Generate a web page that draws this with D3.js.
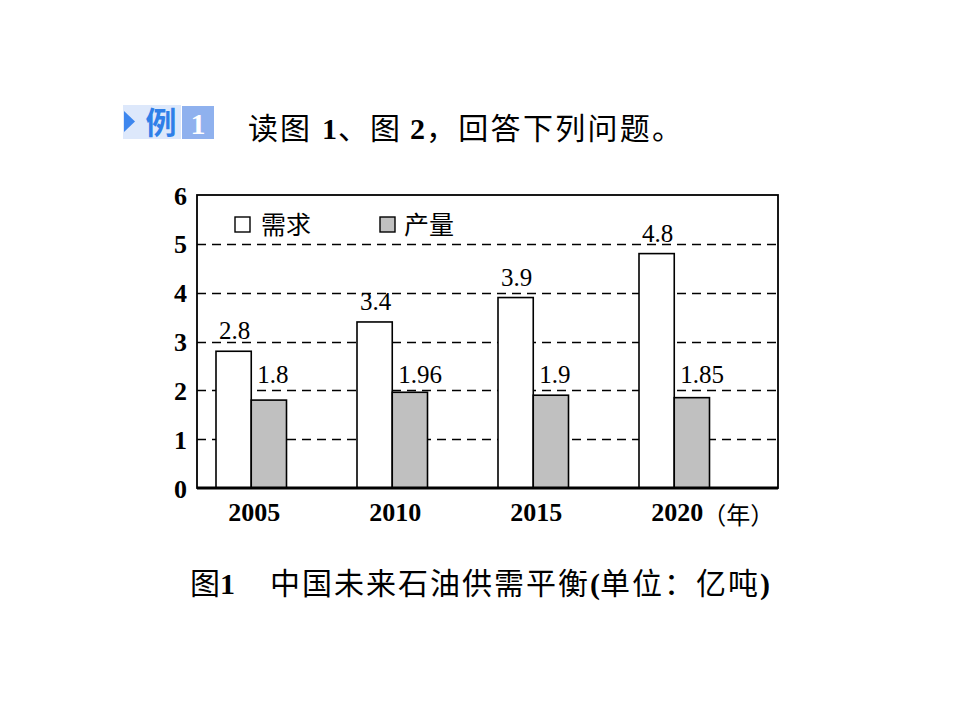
<!DOCTYPE html>
<html><head><meta charset="utf-8">
<script src="https://cdn.jsdelivr.net/npm/d3@7/dist/d3.min.js"></script>
<style>body{margin:0;background:#fff}</style>
</head><body>
<script>
const years = ["2005", "2010", "2015", "2020"];
const demand = [2.8, 3.4, 3.9, 4.8];
const production = [1.8, 1.96, 1.9, 1.85];
const demandLabels = ["2.8", "3.4", "3.9", "4.8"];
const productionLabels = ["1.8", "1.96", "1.9", "1.85"];
const yTicks = [0, 1, 2, 3, 4, 5, 6];
const gridTicks = [1, 2, 3, 4, 5];
const seriesNames = ["需求", "产量"];

const W = 960, H = 720;
const svg = d3.select("body").append("svg").attr("width", W).attr("height", H);
const serif = "'Liberation Serif','DejaVu Serif',serif";
const cjk = "'Noto Sans CJK SC',sans-serif";

const pLeft = 197, pRight = 778, pTop = 195, pBottom = 488;
const y = d3.scaleLinear().domain([0, 6]).range([pBottom, pTop]);
const x = d3.scaleBand().domain(years).range([216, 216 + 141 * 3.5]).paddingInner(0.5).paddingOuter(0).align(0);
const bw = x.bandwidth() / 2;

// header badge
const badge = svg.append("g");
badge.append("rect").attr("x", 123).attr("y", 105).attr("width", 58).attr("height", 34).attr("fill", "#dde8fb");
badge.append("path").attr("d", "M124,111 L135,121.5 L124,132 Z").attr("fill", "#3d86ee");
badge.append("text").attr("x", 161).attr("y", 134).attr("text-anchor", "middle")
  .attr("font-family", cjk).attr("font-weight", "bold").attr("font-size", 31).attr("fill", "#2f7fe8").text("例");
badge.append("rect").attr("x", 182).attr("y", 106).attr("width", 32).attr("height", 33).attr("fill", "#8fb1ee");
badge.append("text").attr("x", 198).attr("y", 134).attr("text-anchor", "middle")
  .attr("font-family", serif).attr("font-weight", "bold").attr("font-size", 30).attr("fill", "#fff").text("1");

const hdr = svg.append("text").attr("y", 139).attr("font-size", 30).attr("fill", "#000");
hdr.append("tspan").attr("x", 248).attr("font-family", cjk).attr("letter-spacing", 2).text("读图");
hdr.append("tspan").attr("x", 322).attr("font-family", serif).attr("font-weight", "bold").text("1");
hdr.append("tspan").attr("x", 338).attr("font-family", cjk).attr("letter-spacing", 2).text("、图");
hdr.append("tspan").attr("x", 410).attr("font-family", serif).attr("font-weight", "bold").text("2");
hdr.append("tspan").attr("x", 426).attr("font-family", cjk).attr("letter-spacing", 2.3).text("，回答下列问题。");

// gridlines
svg.append("g").selectAll("line").data(gridTicks).join("line")
  .attr("x1", pLeft).attr("x2", pRight).attr("y1", d => Math.round(y(d)) + 0.5).attr("y2", d => Math.round(y(d)) + 0.5)
  .attr("stroke", "#000").attr("stroke-width", 1.3).attr("stroke-dasharray", "9,6");

// bars
const g = svg.append("g");
g.selectAll("rect.d").data(years).join("rect").attr("class", "d")
  .attr("x", d => x(d)).attr("width", bw)
  .attr("y", (d, i) => y(demand[i])).attr("height", (d, i) => pBottom - y(demand[i]))
  .attr("fill", "#fff").attr("stroke", "#000").attr("stroke-width", 1.6);
g.selectAll("rect.p").data(years).join("rect").attr("class", "p")
  .attr("x", d => x(d) + bw).attr("width", bw)
  .attr("y", (d, i) => y(production[i])).attr("height", (d, i) => pBottom - y(production[i]))
  .attr("fill", "#c0c0c0").attr("stroke", "#000").attr("stroke-width", 1.6);

// value labels
g.selectAll("text.dl").data(years).join("text").attr("class", "dl")
  .attr("x", d => x(d) + bw / 2 + 1).attr("y", (d, i) => y(demand[i]) - 12)
  .attr("text-anchor", "middle").attr("font-family", serif).attr("font-size", 25).text((d, i) => demandLabels[i]);
g.selectAll("text.pl").data(years).join("text").attr("class", "pl")
  .attr("x", d => x(d) + bw + 6).attr("y", y(d3.max(production)) - 9)
  .attr("font-family", serif).attr("font-size", 25).text((d, i) => productionLabels[i]);

// frame
svg.append("rect").attr("x", pLeft).attr("y", pTop).attr("width", pRight - pLeft).attr("height", pBottom - pTop)
  .attr("fill", "none").attr("stroke", "#000").attr("stroke-width", 1.8);
svg.append("line").attr("x1", pLeft).attr("x2", pRight).attr("y1", pBottom).attr("y2", pBottom)
  .attr("stroke", "#000").attr("stroke-width", 3);

// y axis labels
const yAxis = d3.axisLeft(y).tickValues(yTicks).tickSize(0).tickPadding(10).tickFormat(d3.format("d"));
const ya = svg.append("g").attr("transform", `translate(${pLeft},0)`).call(yAxis);
ya.select(".domain").remove();
ya.selectAll("text").attr("font-family", serif).attr("font-weight", "bold").attr("font-size", 26).attr("fill", "#000").attr("dy", "0.35em");

// x axis labels
const xAxis = d3.axisBottom(x).tickSize(0).tickPadding(15);
const xa = svg.append("g").attr("transform", `translate(3,${pBottom})`).call(xAxis);
xa.select(".domain").remove();
xa.selectAll("text").attr("font-family", serif).attr("font-weight", "bold").attr("font-size", 26).attr("fill", "#000").attr("dy", "0.71em");
svg.append("text").attr("x", x(years[3]) + x.bandwidth() / 2 + 28).attr("y", 524).attr("font-family", cjk).attr("font-size", 24).text("（年）");

// legend
const lg = svg.append("g");
lg.append("rect").attr("x", 235).attr("y", 217).attr("width", 15).attr("height", 15).attr("fill", "#fff").attr("stroke", "#000").attr("stroke-width", 1.4);
lg.append("text").attr("x", 261).attr("y", 234).attr("font-family", cjk).attr("font-size", 25).text(seriesNames[0]);
lg.append("rect").attr("x", 380).attr("y", 217).attr("width", 15).attr("height", 15).attr("fill", "#c0c0c0").attr("stroke", "#000").attr("stroke-width", 1.4);
lg.append("text").attr("x", 404).attr("y", 234).attr("font-family", cjk).attr("font-size", 25).text(seriesNames[1]);

// caption
const cap = svg.append("text").attr("y", 594).attr("font-size", 30).attr("fill", "#000");
cap.append("tspan").attr("x", 190).attr("font-family", cjk).text("图");
cap.append("tspan").attr("font-family", serif).attr("font-weight", "bold").text("1");
cap.append("tspan").attr("x", 270).attr("font-family", cjk).attr("letter-spacing", 2).text("中国未来石油供需平衡");
cap.append("tspan").attr("font-family", serif).attr("font-weight", "bold").text("(");
cap.append("tspan").attr("font-family", cjk).attr("letter-spacing", 2).text("单位：亿吨");
cap.append("tspan").attr("font-family", serif).attr("font-weight", "bold").text(")");
</script>
</body></html>
